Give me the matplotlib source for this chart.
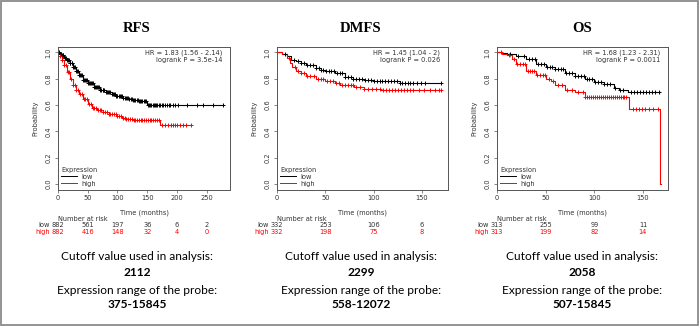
import numpy as np
import matplotlib
matplotlib.use("Agg")
import matplotlib.pyplot as plt
from matplotlib.lines import Line2D
from matplotlib.patches import Rectangle
from matplotlib.transforms import blended_transform_factory

# Kaplan-Meier panels (RFS / DMFS / OS)
titles = ["RFS", "DMFS", "OS"]

rfs_low_t = [0, 3, 6, 10, 15, 20, 25, 30, 35, 42, 50, 60, 70, 80, 90, 98, 110, 120, 126, 135, 149, 278]
rfs_low_s = [1.0, 0.99, 0.98, 0.96, 0.94, 0.915, 0.89, 0.86, 0.83, 0.79, 0.765, 0.735, 0.71, 0.695, 0.68, 0.67, 0.655, 0.645, 0.64, 0.633, 0.60, 0.60]
rfs_high_t = [0, 3, 6, 10, 15, 20, 25, 30, 35, 42, 50, 57, 65, 75, 85, 98, 108, 115, 125, 171, 224]
rfs_high_s = [1.0, 0.97, 0.94, 0.90, 0.85, 0.80, 0.755, 0.715, 0.68, 0.645, 0.61, 0.58, 0.565, 0.55, 0.535, 0.52, 0.50, 0.49, 0.485, 0.45, 0.45]

dmfs_low_t = [0, 5, 10, 14, 20, 25, 30, 40, 45, 50, 60, 70, 79, 90, 100, 127, 170]
dmfs_low_s = [1.0, 0.985, 0.97, 0.945, 0.93, 0.915, 0.905, 0.88, 0.866, 0.86, 0.84, 0.815, 0.80, 0.79, 0.78, 0.765, 0.765]
dmfs_high_t = [0, 5, 10, 13, 16, 20, 25, 30, 40, 50, 60, 65, 80, 90, 100, 107, 170]
dmfs_high_s = [1.0, 0.985, 0.96, 0.92, 0.89, 0.86, 0.84, 0.82, 0.80, 0.785, 0.77, 0.748, 0.74, 0.725, 0.72, 0.71, 0.71]

os_low_t = [0, 5, 10, 20, 30, 40, 50, 60, 70, 80, 90, 100, 110, 120, 125, 135, 168]
os_low_s = [1.0, 0.995, 0.99, 0.975, 0.95, 0.91, 0.885, 0.87, 0.845, 0.82, 0.795, 0.775, 0.76, 0.73, 0.715, 0.695, 0.695]
os_high_t = [0, 5, 10, 15, 20, 30, 40, 50, 55, 60, 70, 80, 90, 136, 168, 169]
os_high_s = [1.0, 0.99, 0.98, 0.95, 0.91, 0.86, 0.825, 0.80, 0.785, 0.75, 0.715, 0.695, 0.66, 0.57, 0.0, 0.0]

# censoring times ("+" marks)
rfs_low_cens = [2, 3, 5, 6, 8, 9, 11, 12, 14, 15, 17, 18, 20, 21, 23, 24, 26, 27, 29, 31, 32, 34, 36, 37, 39, 41,
                42, 44, 46, 47, 49, 51, 52, 54, 56, 57, 59, 61, 62, 64, 66, 68, 69, 71, 73, 75, 76, 78, 80, 82, 84,
                86, 88, 90, 92, 94, 96, 98, 100, 102, 104, 106, 108, 110, 112, 114, 116, 118, 120, 122, 124, 126,
                128, 130, 132, 134, 136, 138, 140, 142, 144, 146, 148, 151, 153, 155, 157, 159, 161, 163, 165,
                167, 170, 172, 175, 177, 180, 183, 186, 189, 193, 197, 202, 216, 233, 243, 260, 277]
rfs_high_cens = [4, 7, 10, 13, 16, 19, 22, 25, 28, 31, 34, 37, 40, 43, 46, 49, 52, 55, 58, 61, 64, 67, 70, 73,
                 76, 79, 82, 85, 88, 91, 94, 97, 100, 103, 106, 109, 112, 115, 118, 121, 124, 127, 130, 133,
                 136, 139, 142, 145, 148, 151, 154, 157, 160, 163, 166, 169, 175, 180, 185, 190, 193, 196, 200,
                 205, 210, 215, 224]
dmfs_low_cens = [8, 18, 22, 25, 28, 31, 34, 37, 40, 43, 45, 48, 51, 54, 56, 59, 62, 65, 67, 70, 73, 76, 79, 82,
                 85, 88, 91, 94, 97, 100, 103, 106, 109, 112, 115, 118, 121, 124, 127, 129, 132, 135, 138, 141,
                 145, 149, 153, 170]
dmfs_high_cens = [12, 19, 22, 25, 28, 31, 34, 38, 42, 45, 48, 52, 55, 58, 61, 64, 67, 70, 73, 76, 79, 82, 86,
                  90, 94, 98, 102, 106, 110, 113, 116, 119, 122, 125, 128, 131, 134, 137, 141, 147, 152, 158,
                  163, 167, 170]
os_low_cens = [13, 22, 28, 33, 36, 39, 42, 45, 48, 51, 54, 57, 60, 63, 66, 68, 71, 74, 77, 80, 83, 86, 89, 92,
               95, 98, 101, 104, 107, 110, 113, 116, 121, 126, 130, 138, 141, 144, 147, 150, 153, 156, 159,
               162, 166]
os_high_cens = [4, 12, 17, 21, 24, 27, 29, 32, 34, 36, 38, 41, 44, 47, 49, 53, 58, 63, 67, 72, 77, 83, 88, 90,
                93, 95, 97, 99, 101, 103, 105, 107, 109, 111, 113, 115, 117, 119, 121, 123, 125, 127, 129, 131,
                133, 140, 143, 146, 149, 152, 156, 160, 165]

hr_text = ["HR = 1.83 (1.56 - 2.14)\nlogrank P = 3.5e-14",
           "HR = 1.45 (1.04 - 2)\nlogrank P = 0.026",
           "HR = 1.68 (1.23 - 2.31)\nlogrank P = 0.0011"]

risk_ticks = [[0, 50, 100, 150, 200, 250], [0, 50, 100, 150], [0, 50, 100, 150]]
risk_low = [[882, 561, 197, 36, 6, 2], [332, 253, 106, 6], [313, 255, 99, 11]]
risk_high = [[882, 416, 148, 32, 4, 0], [332, 198, 75, 8], [313, 199, 82, 14]]

cutoff = ["2112", "2299", "2058"]
probe_range = ["375-15845", "558-12072", "507-15845"]

curves = [(rfs_low_t, rfs_low_s, rfs_low_cens, rfs_high_t, rfs_high_s, rfs_high_cens),
          (dmfs_low_t, dmfs_low_s, dmfs_low_cens, dmfs_high_t, dmfs_high_s, dmfs_high_cens),
          (os_low_t, os_low_s, os_low_cens, os_high_t, os_high_s, os_high_cens)]

# layout in pixels
W, H = 700, 328
ax_left = [58, 277, 497]
ax_right = [230, 448, 668]
ax_top, ax_bot = 47, 190
centers = [137, 361, 582]


def fx(x):
    return x / W


def fy(y):
    return 1 - y / H


def step_val(t, s, x):
    i = np.searchsorted(t, x, side="right") - 1
    return np.array(s)[i]


fig = plt.figure(figsize=(7, 3.28), dpi=100)
fig.patch.set_facecolor("white")
fig.add_artist(Rectangle((fx(1), fy(325)), fx(697), (324) / H, transform=fig.transFigure,
                         fill=False, edgecolor="#8a8a8a", lw=1.3))

txtc = "#333333"
small = 4.8
big = 8.6

for k in range(3):
    lt, ls, lc, ht, hs, hc = curves[k]
    ax = fig.add_axes([fx(ax_left[k]), fy(ax_bot), (ax_right[k] - ax_left[k]) / W, (ax_bot - ax_top) / H])
    tmax = max(lt[-1], ht[-1])
    ax.set_xlim(0, tmax * 1.04)
    ax.set_ylim(-0.045, 1.04)

    ax.step(lt, ls, where="post", color="black", lw=0.8)
    ax.step(ht, hs, where="post", color="red", lw=0.8)
    lc = [c for c in lc if c <= lt[-1]]
    hc = [c for c in hc if c <= ht[-1]]
    ax.plot(lc, step_val(lt, ls, lc), ls="none", marker="+", ms=3.4, mew=0.7, color="black")
    ax.plot(hc, step_val(ht, hs, hc), ls="none", marker="+", ms=3.4, mew=0.7, color="red")

    for sp in ax.spines.values():
        sp.set_color("#555555")
        sp.set_linewidth(0.7)
    ax.set_xticks(risk_ticks[k])
    ax.set_yticks([0.0, 0.2, 0.4, 0.6, 0.8, 1.0])
    ax.set_yticklabels(["0.0", "0.2", "0.4", "0.6", "0.8", "1.0"])
    ax.tick_params(length=2.2, width=0.5, color="#555555", labelsize=small, labelcolor=txtc)
    ax.tick_params(axis="x", pad=1.5)
    ax.tick_params(axis="y", pad=2.5, labelrotation=90)
    for lb in ax.get_yticklabels():
        lb.set_va("center")

    ax.set_ylabel("Probability", fontsize=small, color=txtc)
    ax.yaxis.set_label_coords(-20 / (ax_right[k] - ax_left[k]), 0.5)
    ax.set_xlabel("Time (months)", fontsize=small, color=txtc)
    ax.xaxis.set_label_coords(0.5, -19 / (ax_bot - ax_top))

    ax.text(1 - 8 / (ax_right[k] - ax_left[k]), 1 - 3 / (ax_bot - ax_top), hr_text[k], transform=ax.transAxes,
            ha="right", va="top", fontsize=small, color=txtc, linespacing=1.05)

    handles = [Line2D([], [], color="black", lw=0.7), Line2D([], [], color="red", lw=0.7)]
    leg = ax.legend(handles, ["low", "high"], title="Expression", loc="lower left", frameon=False,
                    fontsize=small, title_fontsize=small, alignment="left", handlelength=2.4,
                    borderaxespad=0.2, borderpad=0.3, labelspacing=0.15, handletextpad=0.6)
    leg.get_title().set_color(txtc)
    for t in leg.get_texts():
        t.set_color(txtc)

    # number at risk table
    tr = blended_transform_factory(ax.transData, fig.transFigure)
    fig.text(fx(ax_left[k]), fy(219), "Number at risk", ha="left", va="center", fontsize=small, color=txtc)
    fig.text(fx(ax_left[k] - 8), fy(225), "low", ha="right", va="center", fontsize=small, color=txtc)
    fig.text(fx(ax_left[k] - 8), fy(232), "high", ha="right", va="center", fontsize=small, color="red")
    for x, a, b in zip(risk_ticks[k], risk_low[k], risk_high[k]):
        ax.text(x, fy(225), str(a), transform=tr, ha="center", va="center", fontsize=small, color=txtc)
        ax.text(x, fy(232), str(b), transform=tr, ha="center", va="center", fontsize=small, color="red")

    # panel title and probe info
    fig.text(fx(centers[k]), fy(28), titles[k], ha="center", va="center", fontsize=10.5,
             fontweight="bold", family="Liberation Serif")
    fig.text(fx(centers[k]), fy(257), "Cutoff value used in analysis:", ha="center", va="center",
             fontsize=big, family="Lato", color="black")
    fig.text(fx(centers[k]), fy(272), cutoff[k], ha="center", va="center", fontsize=big,
             family="Lato", fontweight="bold")
    fig.text(fx(centers[k]), fy(290), "Expression range of the probe:", ha="center", va="center",
             fontsize=big, family="Lato", color="black")
    fig.text(fx(centers[k]), fy(305), probe_range[k], ha="center", va="center", fontsize=big,
             family="Lato", fontweight="bold")

fig.savefig("out.png", dpi=100)
